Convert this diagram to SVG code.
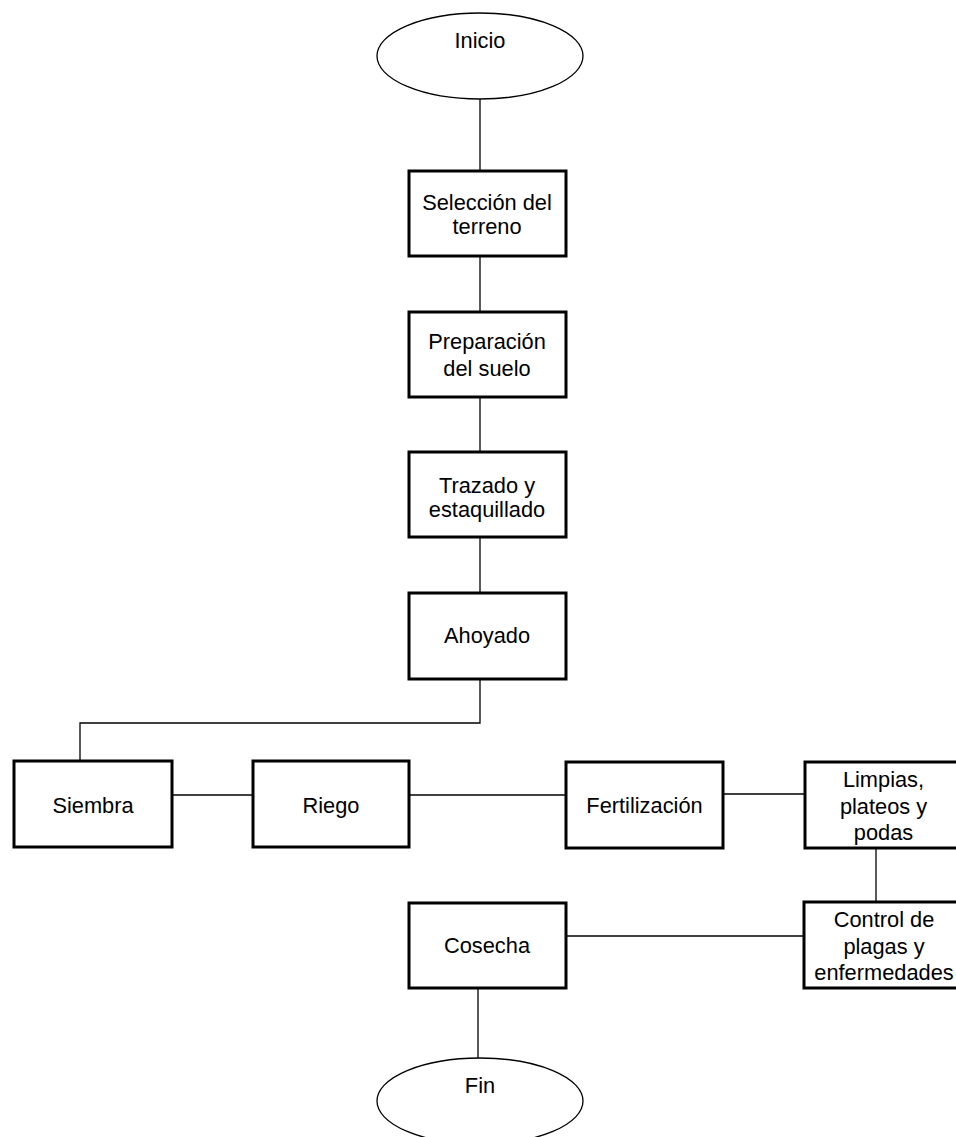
<svg xmlns="http://www.w3.org/2000/svg" width="956" height="1137" viewBox="0 0 956 1137">
<style>
.box{fill:#fff;stroke:#000;stroke-width:3}
.ell{fill:#fff;stroke:#000;stroke-width:1.3}
.ln{fill:none;stroke:#000;stroke-width:1.3}
text{font-family:"Liberation Sans",Arial,sans-serif;font-size:21.8px;fill:#000;text-anchor:middle}
</style>
<rect width="956" height="1137" fill="#fff"/>
<g id="connectors">
<line class="ln" x1="480" y1="99" x2="480" y2="171"/>
<line class="ln" x1="480" y1="256" x2="480" y2="312"/>
<line class="ln" x1="480" y1="397" x2="480" y2="452"/>
<line class="ln" x1="480" y1="537" x2="480" y2="593"/>
<polyline class="ln" points="480,679 480,723 80,723 80,761"/>
<line class="ln" x1="172" y1="795" x2="253" y2="795"/>
<line class="ln" x1="409" y1="795" x2="566" y2="795"/>
<line class="ln" x1="723" y1="794" x2="805" y2="794"/>
<line class="ln" x1="876" y1="848" x2="876" y2="902"/>
<line class="ln" x1="566" y1="936" x2="804" y2="936"/>
<line class="ln" x1="478" y1="988" x2="478" y2="1058"/>
</g>
<g id="inicio">
<ellipse class="ell" cx="480" cy="56" rx="103" ry="43"/>
<text x="480" y="48">Inicio</text>
</g>
<g id="seleccion">
<rect class="box" x="409" y="171" width="157" height="85"/>
<text x="487" y="210">Selección del</text>
<text x="487" y="234">terreno</text>
</g>
<g id="preparacion">
<rect class="box" x="409" y="312" width="157" height="85"/>
<text x="487" y="349">Preparación</text>
<text x="487" y="376">del suelo</text>
</g>
<g id="trazado">
<rect class="box" x="409" y="452" width="157" height="85"/>
<text x="487" y="493">Trazado y</text>
<text x="487" y="517">estaquillado</text>
</g>
<g id="ahoyado">
<rect class="box" x="409" y="593" width="157" height="86"/>
<text x="487" y="643">Ahoyado</text>
</g>
<g id="siembra">
<rect class="box" x="14" y="761" width="158" height="86"/>
<text x="93" y="813">Siembra</text>
</g>
<g id="riego">
<rect class="box" x="253" y="761" width="156" height="86"/>
<text x="331" y="813">Riego</text>
</g>
<g id="fertilizacion">
<rect class="box" x="566" y="762" width="157" height="86"/>
<text x="644.5" y="813">Fertilización</text>
</g>
<g id="limpias">
<rect class="box" x="805" y="762" width="157" height="86"/>
<text x="883.5" y="787">Limpias,</text>
<text x="883.5" y="814">plateos y</text>
<text x="883.5" y="840">podas</text>
</g>
<g id="control">
<rect class="box" x="804" y="902" width="158" height="86"/>
<text x="884" y="927">Control de</text>
<text x="884" y="954">plagas y</text>
<text x="884" y="980">enfermedades</text>
</g>
<g id="cosecha">
<rect class="box" x="409" y="903" width="157" height="85"/>
<text x="487" y="953">Cosecha</text>
</g>
<g id="fin">
<ellipse class="ell" cx="480" cy="1101" rx="103" ry="43"/>
<text x="480" y="1093">Fin</text>
</g>
</svg>
